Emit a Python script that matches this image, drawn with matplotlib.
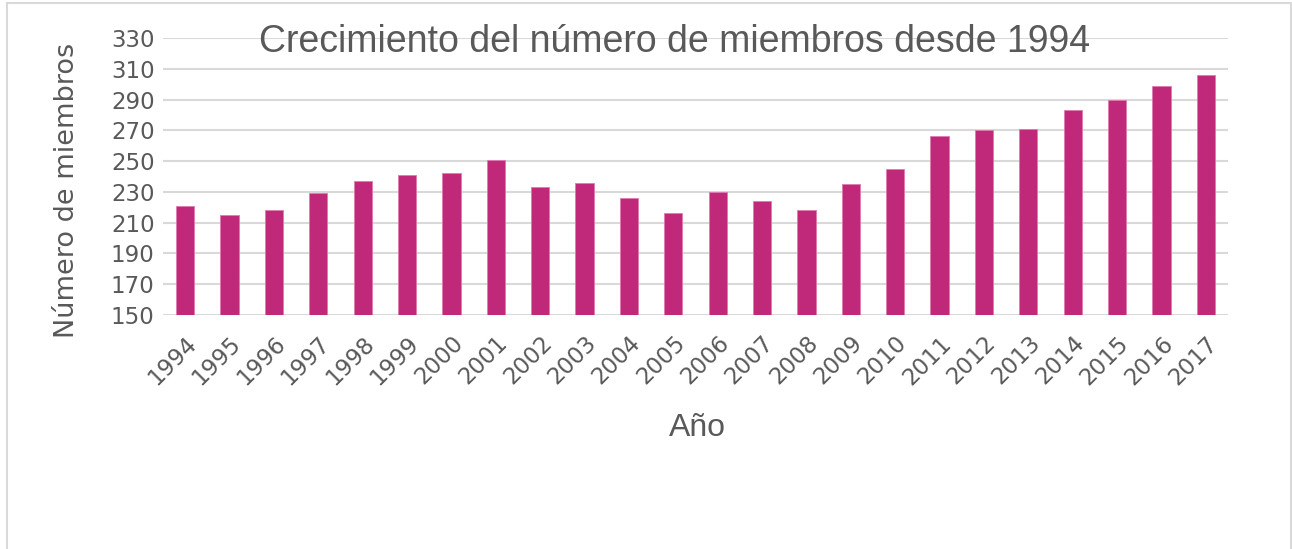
import numpy as np
import matplotlib
matplotlib.use("Agg")
import matplotlib.pyplot as plt
from matplotlib.patches import Rectangle

plt.rcParams['font.family'] = ['DejaVu Sans']

# Datos
years = [str(y) for y in range(1994, 2018)]
members = [221, 215, 218, 229, 237, 241, 242, 251, 233, 236, 226, 216,
           230, 224, 218, 235, 245, 266, 270, 271, 283, 290, 299, 306]
y_ticks = list(range(150, 331, 20))

bar_color = '#C0297A'
text_color = '#595959'
grid_color = '#D9D9D9'

W, H = 1292, 549
fig = plt.figure(figsize=(W / 100, H / 100), dpi=100)
fig.patch.set_facecolor('white')

# borde exterior del área del gráfico
fig.patches.append(Rectangle((7 / W, -0.05), (1291 - 7) / W, 1.05 - 3 / H,
                             transform=fig.transFigure, fill=False,
                             edgecolor=grid_color, linewidth=1.5))

ax = fig.add_axes([163 / W, 1 - 315 / H, (1228 - 163) / W, (315 - 38) / H])
x = np.arange(len(years))
ax.bar(x, members, width=0.41, color=bar_color, edgecolor='#E07AAE',
       linewidth=0.6, zorder=3)

ax.set_ylim(150, 330)
ax.set_xlim(-0.5, len(years) - 0.5)
ax.set_yticks(y_ticks)
ax.yaxis.grid(True, color=grid_color, linewidth=1.5, zorder=0)
ax.set_axisbelow(True)
for s in ax.spines.values():
    s.set_visible(False)
ax.tick_params(axis='both', length=0, colors=text_color)
ax.tick_params(axis='y', labelsize=16.5, pad=6)
ax.set_xticks(x)
ax.set_xticklabels(years, rotation=45, ha='right', va='top',
                   rotation_mode='anchor', fontsize=16.5)
ax.tick_params(axis='x', pad=12)

ax.set_ylabel('Número de miembros', fontsize=19.5, color=text_color)
ax.yaxis.set_label_coords(-0.078, 0.45)

fig.text(697 / W, 1 - 428 / H, 'Año', fontsize=23, color=text_color,
         family='Liberation Sans', ha='center', va='center')
fig.text(675 / W, 1 - 42 / H, 'Crecimiento del número de miembros desde 1994',
         fontsize=27, color=text_color, family='Liberation Sans',
         ha='center', va='center')

fig.savefig('out.png', dpi=100, facecolor='white')
